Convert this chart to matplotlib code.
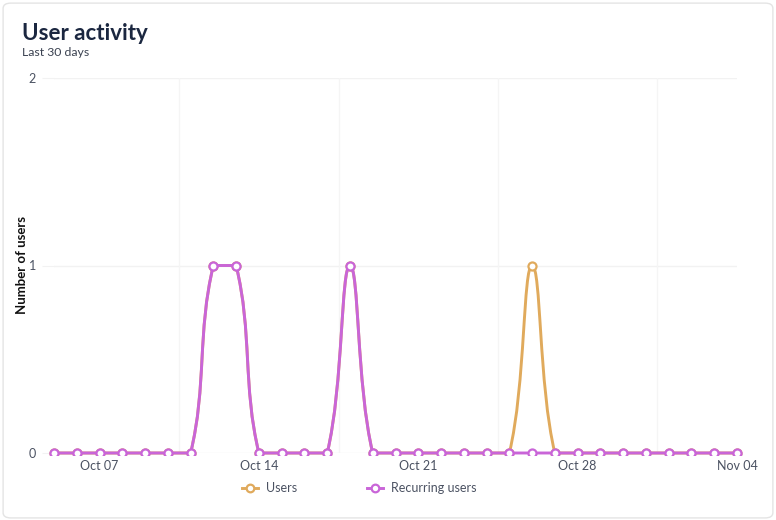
import matplotlib
matplotlib.use("Agg")
import matplotlib.pyplot as plt
import matplotlib.dates as mdates
from matplotlib.path import Path
from matplotlib.patches import PathPatch, FancyBboxPatch, Rectangle
from matplotlib.lines import Line2D
import numpy as np
import pandas as pd

# data: one value per day, Oct 05 -> Nov 04
dates = pd.date_range("2023-10-05", periods=31, freq="D")
users = [0, 0, 0, 0, 0, 0, 0, 1, 1, 0, 0, 0, 0, 1, 0, 0,
         0, 0, 0, 0, 0, 1, 0, 0, 0, 0, 0, 0, 0, 0, 0]
recurring = [0, 0, 0, 0, 0, 0, 0, 1, 1, 0, 0, 0, 0, 1, 0, 0,
             0, 0, 0, 0, 0, 0, 0, 0, 0, 0, 0, 0, 0, 0, 0]
tick_dates = pd.to_datetime(["2023-10-07", "2023-10-14", "2023-10-21",
                             "2023-10-28", "2023-11-04"])
tick_labels = ["Oct 07", "Oct 14", "Oct 21", "Oct 28", "Nov 04"]

USERS_C = "#e0aa5c"
REC_C = "#c965d8"
TXT = "#4b5262"
GRID = "#f2f2f2"
plt.rcParams["font.family"] = ["Lato", "DejaVu Sans"]

fig = plt.figure(figsize=(7.76, 5.2), dpi=100)
fig.patches.append(FancyBboxPatch((0.004, 0.004), 0.992, 0.99, boxstyle="round,pad=0,rounding_size=0.01",
                                  transform=fig.transFigure, fc="white", ec="#e4e4e4", lw=1, zorder=-10))
ax = fig.add_axes([54 / 776, 1 - 453 / 520, (737 - 54) / 776, (453 - 78) / 520])
ax.set_facecolor("none")

xnum = mdates.date2num(dates)
ax.set_xlim(xnum[0], xnum[-1])
ax.set_ylim(0, 2)

for s in ax.spines.values():
    s.set_visible(False)

ax.set_yticks([0, 1, 2])
ax.set_yticklabels(["0", "1", "2"])
ax.set_xticks(mdates.date2num(tick_dates))
ax.set_xticklabels(tick_labels)
ax.tick_params(axis="y", length=9, color=GRID, labelcolor=TXT, labelsize=9, pad=4)
ax.tick_params(axis="x", length=0, labelcolor=TXT, labelsize=9, pad=5)
for yv in [0, 1, 2]:
    ax.axhline(yv, color=GRID, lw=1, zorder=0)
for gx in mdates.date2num(tick_dates - pd.Timedelta(hours=84)):
    ax.axvline(gx, color="#f5f5f5", lw=1, zorder=0)
ax.set_ylabel("Number of users", fontsize=9.5, fontweight="bold", color="#111111")
ax.yaxis.set_label_coords((22 - 54) / 683, 0.5)
ax.yaxis.label.set_va("center")


def smooth_path(x, y, tension=0.4):
    # bezier spline like chart.js, control points worked out in pixels
    pts = ax.transData.transform(np.column_stack([x, y]))
    n = len(pts)
    cp_in, cp_out = [], []
    for i in range(n):
        cur = pts[i]
        prev = pts[i - 1] if i > 0 else cur
        nxt = pts[i + 1] if i < n - 1 else cur
        d01 = np.hypot(*(cur - prev))
        d12 = np.hypot(*(nxt - cur))
        tot = d01 + d12
        s01 = d01 / tot if tot else 0
        s12 = d12 / tot if tot else 0
        cp_in.append(cur - tension * s01 * (nxt - prev))
        cp_out.append(cur + tension * s12 * (nxt - prev))

    def clamp(p, a, b):
        # keep the control point inside the segment's own y range (flat plateaus)
        lo, hi = min(a[1], b[1]), max(a[1], b[1])
        return np.array([p[0], np.clip(p[1], lo, hi)])

    verts = [pts[0]]
    codes = [Path.MOVETO]
    for i in range(n - 1):
        a, b = pts[i], pts[i + 1]
        verts += [clamp(cp_out[i], a, b), clamp(cp_in[i + 1], a, b), b]
        codes += [Path.CURVE4] * 3
    return Path(ax.transData.inverted().transform(np.array(verts)), codes)


clip_rect = Rectangle((-0.01, -0.004), 1.02, 1.01, transform=ax.transAxes, fc="none", ec="none")
for vals, col, z in [(users, USERS_C, 3), (recurring, REC_C, 4)]:
    ax.add_patch(PathPatch(smooth_path(xnum, vals), fill=False, ec=col, lw=2.1,
                           zorder=z, clip_on=False, capstyle="round", joinstyle="round"))
    mk, = ax.plot(xnum, vals, ls="none", marker="o", ms=5.8, mfc="white", mec=col, mew=1.6,
                  zorder=z + 0.5)
    mk.set_clip_path(clip_rect)

fig.text(22 / 776, 1 - 34 / 520, "User activity", fontsize=16, fontweight="bold",
         color="#1b2740", va="center")
fig.text(22 / 776, 1 - 53 / 520, "Last 30 days", fontsize=8.8, color="#3a4150", va="center")

handles = [Line2D([], [], color=USERS_C, lw=2.1, marker="o", ms=5.5, mfc="white", mew=1.6),
           Line2D([], [], color=REC_C, lw=2.1, marker="o", ms=5.5, mfc="white", mew=1.6)]
fig.legend(handles, ["Users", "Recurring users"], loc="center", bbox_to_anchor=(359 / 776, 1 - 488 / 520),
           ncol=2, frameon=False, fontsize=9, labelcolor=TXT, handlelength=1.3,
           handletextpad=0.6, columnspacing=5.6)

fig.savefig("out.png", dpi=100)
